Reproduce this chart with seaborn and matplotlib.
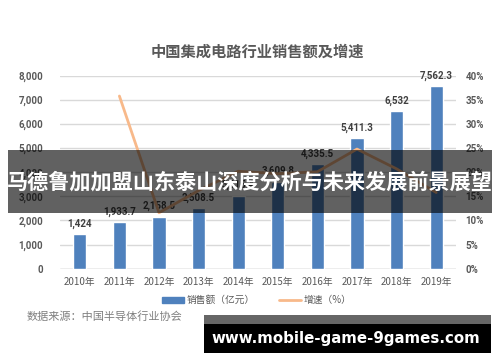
import numpy as np
import pandas as pd
import matplotlib
matplotlib.use("Agg")
import matplotlib.pyplot as plt
import seaborn as sns
from matplotlib.patches import Rectangle
from matplotlib.lines import Line2D
from matplotlib.ticker import FuncFormatter, MultipleLocator

years = ["2010年", "2011年", "2012年", "2013年", "2014年", "2015年", "2016年", "2017年", "2018年", "2019年"]
sales = [1424, 1933.7, 2158.5, 2508.5, 3015.4, 3609.8, 4335.5, 5411.3, 6532, 7562.3]
sales_labels = ["1,424", "1,933.7", "2,158.5", "2,508.5", "3,015.4", "3,609.8", "4,335.5", "5,411.3", "6,532", "7,562.3"]
growth = [np.nan, 35.8, 11.6, 16.2, 20.2, 19.7, 20.1, 24.8, 20.7, 15.8]

title = "中国集成电路行业销售额及增速"
legend_bar = "销售额（亿元）"
legend_line = "增速（%）"
source = "数据来源：中国半导体行业协会"
banner = "马德鲁加加盟山东泰山深度分析与未来发展前景展望"
watermark = "www.mobile-game-9games.com"

sns.set_theme(style="white")
plt.rcParams['font.family'] = ['Noto Sans CJK SC', 'DejaVu Sans']

BLUE = "#4f81bd"
ORANGE = "#f8b98a"
GREY = "#595959"
NUMFONT = ["Roboto", "DejaVu Sans"]

df = pd.DataFrame({"year": years, "sales": sales, "growth": growth})
df["pos"] = np.arange(len(df))

fig = plt.figure(figsize=(5.0, 3.62), dpi=100)
fig.patch.set_facecolor("white")
ax = fig.add_axes([0.12, 0.2577, 0.792, 0.533])

sns.barplot(data=df, x="year", y="sales", color=BLUE, width=0.33, saturation=1, ax=ax, zorder=3)
ax.set_ylim(0, 8000)
ax.set_xlim(-0.5, len(years) - 0.5)
ax.yaxis.set_major_locator(MultipleLocator(1000))
ax.yaxis.set_major_formatter(FuncFormatter(lambda v, p: f"{int(v):,}"))
ax.grid(axis="y", color="#d9d9d9", lw=1, zorder=0)
ax.set_axisbelow(True)
for s in ax.spines.values():
    s.set_visible(False)
ax.axhline(0, color="#c8c8c8", lw=1, zorder=2)
ax.set_xlabel("")
ax.set_ylabel("")
ax.tick_params(axis="y", length=0, pad=12, labelsize=7, labelcolor=GREY)
ax.tick_params(axis="x", length=0, pad=6, labelsize=7, labelcolor=GREY)
for t in ax.get_yticklabels():
    t.set_fontweight("bold")
    t.set_family(NUMFONT)

for p, v, lab in zip(df["pos"], df["sales"], sales_labels):
    ax.annotate(lab, (p, v), xytext=(0, 4), textcoords="offset points",
                ha="center", va="bottom", fontsize=7, fontweight="bold",
                color="#404040", family=NUMFONT, zorder=5)

ax2 = ax.twinx()
dl = df.dropna(subset=["growth"])
sns.lineplot(data=dl, x="pos", y="growth", color=ORANGE, lw=2, ax=ax2, zorder=4)
ax2.set_ylim(0, 40)
ax2.yaxis.set_major_locator(MultipleLocator(5))
ax2.yaxis.set_major_formatter(FuncFormatter(lambda v, p: f"{int(v)}%"))
for s in ax2.spines.values():
    s.set_visible(False)
ax2.set_ylabel("")
ax2.set_xlabel("")
ax2.tick_params(axis="y", length=0, pad=7, labelsize=7, labelcolor=GREY)
for t in ax2.get_yticklabels():
    t.set_fontweight("bold")
    t.set_family(NUMFONT)
ax2.set_xlim(-0.5, len(years) - 0.5)

fig.text(0.515, 0.856, title, ha="center", va="center", fontsize=11, color=GREY, fontweight="bold")

handles = [Rectangle((0, 0), 1, 1, color=BLUE), Line2D([0], [0], color=ORANGE, lw=2)]
fig.legend(handles, [legend_bar, legend_line], loc="center", bbox_to_anchor=(0.514, 0.171),
           ncol=2, frameon=False, fontsize=7, labelcolor=GREY, handlelength=2.2,
           handleheight=0.6, columnspacing=2.5, handletextpad=0.3)

fig.text(0.054, 0.125, source, ha="left", va="center", fontsize=8, color="#7f7f7f")

# overlay banner
fig.patches.append(Rectangle((8 / 500, 1 - 213 / 362), 484 / 500, 63 / 362,
                             transform=fig.transFigure, facecolor="black", alpha=0.62,
                             edgecolor="none", zorder=10))
fig.text(0.5, 1 - 182 / 362, banner, ha="center", va="center", fontsize=15.2,
         color="white", fontweight="bold", zorder=11)

# watermark box
fig.patches.append(Rectangle((204 / 500, 1 - 324 / 362), 287 / 500, 9 / 362,
                             transform=fig.transFigure, facecolor="#666666",
                             edgecolor="none", zorder=10))
fig.patches.append(Rectangle((204 / 500, 1 - 353 / 362), 287 / 500, 29 / 362,
                             transform=fig.transFigure, facecolor="black",
                             edgecolor="none", zorder=10))
fig.text(346 / 500, 1 - 338 / 362, watermark, ha="center", va="center", fontsize=10.8,
         color="white", fontweight="bold", family="DejaVu Sans", zorder=11)

fig.savefig("out.png", dpi=100)
